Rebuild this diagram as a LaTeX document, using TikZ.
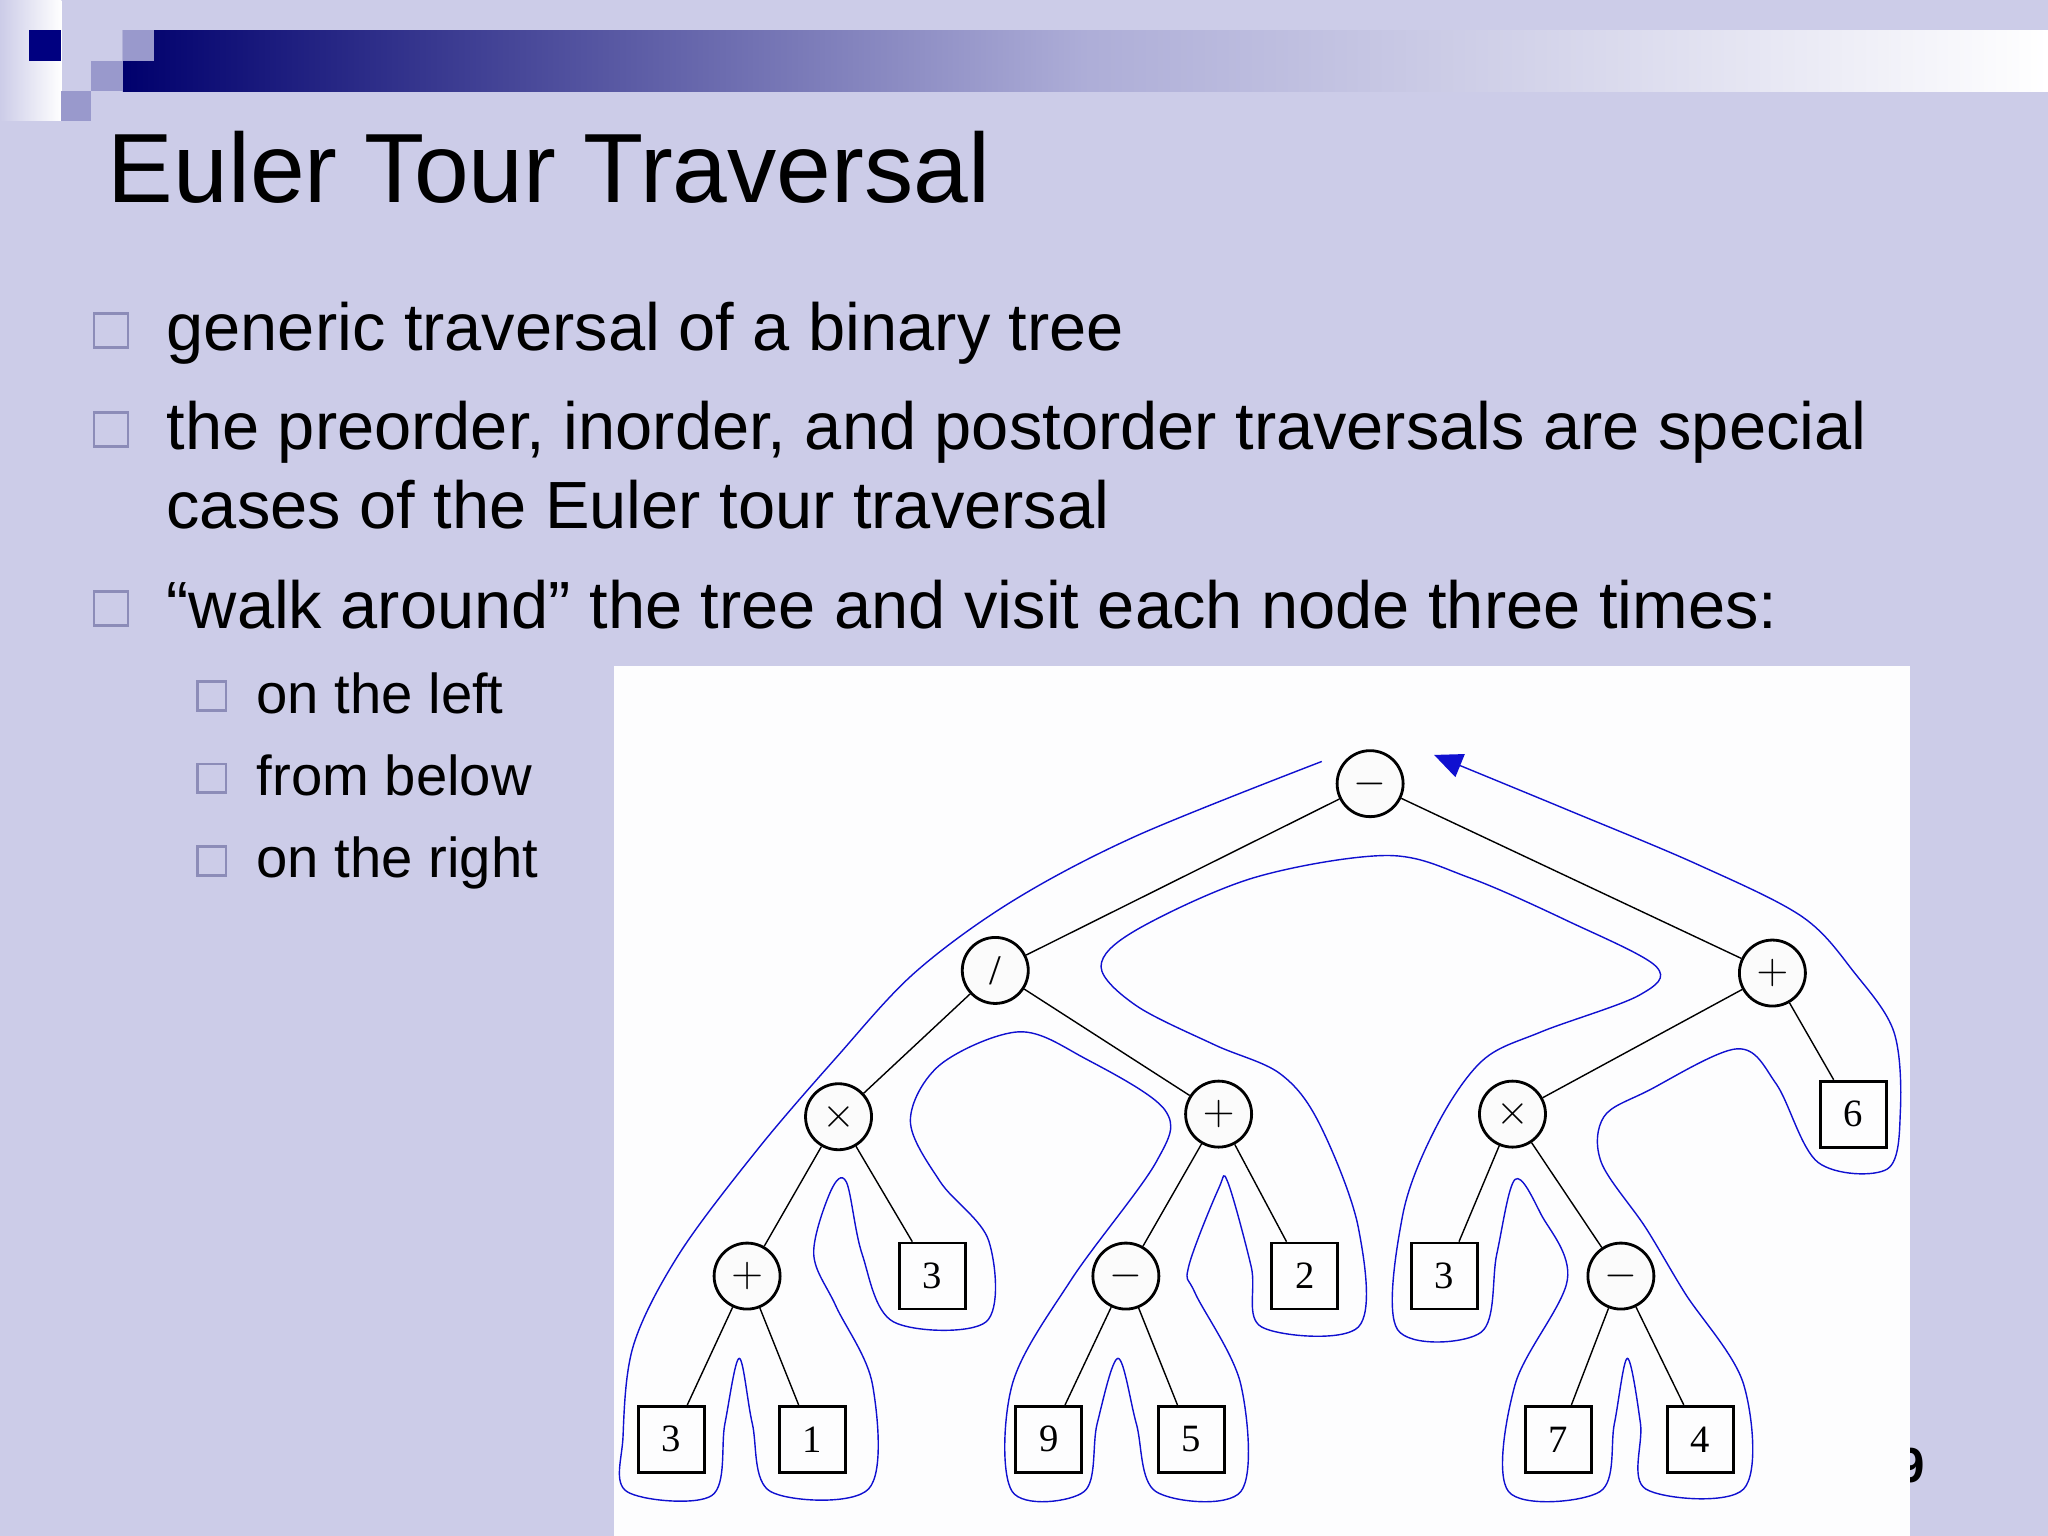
\documentclass[tikz,border=0pt]{standalone}
\usepackage{fontspec}
\setmainfont{Liberation Sans}
\newfontfamily\treefont{Liberation Serif}
\usetikzlibrary{arrows.meta}
\definecolor{bg}{HTML}{CCCCE8}
\definecolor{navy}{HTML}{000080}
\definecolor{lsq}{HTML}{9999CC}
\definecolor{blt}{HTML}{8C8CB8}
\definecolor{tour}{HTML}{1010D0}
\tikzset{
 cnode/.style={circle,draw,thick,minimum size=0.66cm,inner sep=0pt,fill=white!97!gray,font=\treefont\fontsize{12}{12}\selectfont},
 bnode/.style={rectangle,draw,thick,minimum size=0.66cm,inner sep=0pt,font=\treefont\fontsize{11}{11}\selectfont},
 edge/.style={draw,thin},
 bsq/.style={draw=blt,thick,fill=bg},
 btext/.style={anchor=base west,inner sep=0pt,font=\fontsize{19}{19}\selectfont},
 stext/.style={anchor=base west,inner sep=0pt,font=\fontsize{16}{16}\selectfont},
}
\begin{document}
\begin{tikzpicture}[x=0.013061cm,y=-0.013061cm]
\useasboundingbox (0,0) rectangle (1568,1176);
\fill[bg] (0,0) rectangle (1568,1176);
% top decoration
\shade[left color=bg,right color=white] (0,0) rectangle (47,92);
\shade[left color=navy!85!black,right color=white,middle color=navy!40!white!60!bg] (94,23) rectangle (1568,70);
\fill[navy] (22,23) rectangle (47,47);
\fill[lsq] (94,23) rectangle (118,47);
\fill[lsq] (70,47) rectangle (94,70);
\fill[lsq] (47,70) rectangle (70,93);
\node[anchor=base west,inner sep=0pt,font=\fontsize{28}{28}\selectfont] (title) at (82,155) {Euler Tour Traversal};
% bullets
\foreach \yy in {253,329,466} \draw[bsq] (72,\yy-13) rectangle +(26,26);
\foreach \yy in {533,596,659} \draw[bsq] (151,\yy-11) rectangle +(22,22);
\node[btext] (b1) at (127,268) {generic traversal of a binary tree};
\node[btext] (b2) at (127,344) {the preorder, inorder, and postorder traversals are special};
\node[btext] (b2b) at (127,405) {cases of the Euler tour traversal};
\node[btext] (b3) at (127,481) {“walk around” the tree and visit each node three times:};
\node[stext] (s1) at (196,546) {on the left};
\node[stext] (s2) at (196,609) {from below};
\node[stext] (s3) at (196,672) {on the right};
\node[anchor=base west,inner sep=0pt,font=\bfseries\fontsize{14}{14}\selectfont] (pg) at (1452,1135) {9};
% picture panel
\fill[white!97!bg] (470,510) rectangle (1462,1176);
% tree
\node[cnode] (r) at (1049,600) {$-$};
\node[cnode] (d) at (762,743) {/};
\node[cnode] (p1) at (1357,745) {$+$};
\node[cnode] (x1) at (642,855) {$\times$};
\node[cnode] (p2) at (933,853) {$+$};
\node[cnode] (x2) at (1158,853) {$\times$};
\node[bnode] (b6) at (1419,853) {6};
\node[cnode] (p3) at (572,977) {$+$};
\node[bnode] (b3a) at (714,977) {3};
\node[cnode] (m1) at (862,977) {$-$};
\node[bnode] (b2n) at (999,977) {2};
\node[bnode] (b3b) at (1106,977) {3};
\node[cnode] (m2) at (1241,977) {$-$};
\node[bnode] (l3) at (514,1102) {3};
\node[bnode] (l1) at (622,1102) {1};
\node[bnode] (l9) at (803,1102) {9};
\node[bnode] (l5) at (912,1102) {5};
\node[bnode] (l7) at (1193,1102) {7};
\node[bnode] (l4) at (1302,1102) {4};
\foreach \a/\b in {r/d,r/p1,d/x1,d/p2,p1/x2,p1/b6,x1/p3,x1/b3a,p2/m1,p2/b2n,x2/b3b,x2/m2,p3/l3,p3/l1,m1/l9,m1/l5,m2/l7,m2/l4}
  \draw[edge] (\a) -- (\b);
% Euler tour
\coordinate (ts) at (1012,583);
\coordinate (te) at (1098,578);
\draw[tour,thin,-{Triangle[length=8pt,width=7pt]}] plot[smooth,tension=0.55] coordinates {
(1012,583) (870,640) (775,690) (700,745) (640,810) (580,880) (520,960) (485,1030) (477,1100) (480,1142) (545,1145) (555,1090) (566,1040) (576,1090) (590,1142) (665,1140) (668,1060) (640,1000) (623,960) (636,912) (648,905) (660,960) (684,1012) (755,1012) (757,950) (720,905) (697,858) (720,815) (780,790) (830,810) (892,850) (885,890) (820,980) (775,1060) (775,1142) (830,1142) (840,1090) (856,1040) (870,1090) (885,1142) (950,1142) (950,1060) (915,990) (910,970) (933,910) (940,905) (958,970) (966,1016) (1040,1016) (1040,940) (1010,860) (980,822) (930,800) (870,770) (843,740) (870,712) (960,672) (1062,655) (1125,672) (1200,705) (1268,740) (1255,762) (1180,790) (1135,812) (1100,862) (1074,930) (1070,1018) (1134,1020) (1146,960) (1160,903) (1180,930) (1200,980) (1160,1060) (1155,1142) (1225,1142) (1236,1090) (1246,1040) (1256,1090) (1260,1140) (1335,1140) (1335,1060) (1290,990) (1260,940) (1226,890) (1228,855) (1262,835) (1330,803) (1360,830) (1392,890) (1445,895) (1455,850) (1450,790) (1420,745) (1380,702) (1300,662) (1200,620) (1098,578)};
\end{tikzpicture}
\end{document}
